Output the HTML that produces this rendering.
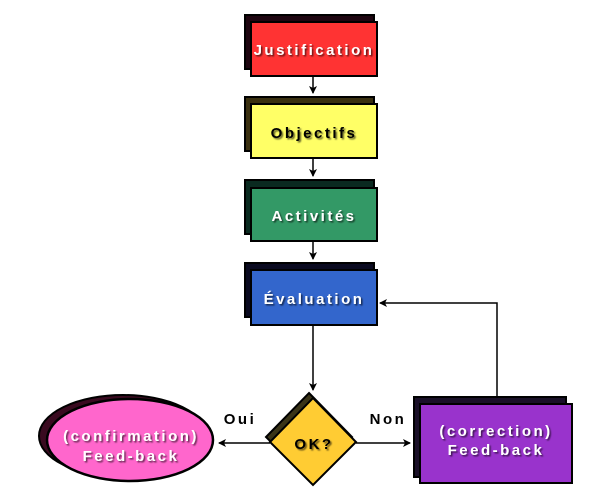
<!DOCTYPE html>
<html><head><meta charset="utf-8"><style>
body{margin:0;background:#fff}
svg{display:block}
text{font-family:"Liberation Sans",sans-serif;font-weight:bold;font-size:15px;letter-spacing:2.5px}
</style></head><body>
<svg width="600" height="500" viewBox="0 0 600 500">
<defs>
<marker id="a" markerWidth="8" markerHeight="8" refX="7" refY="4" orient="auto" markerUnits="userSpaceOnUse"><path d="M0,0 L8,4 L0,8 L2,4 z" fill="#000"/></marker>
<filter id="s"><feDropShadow dx="1.5" dy="1.5" stdDeviation="0.8" flood-color="#000" flood-opacity="0.6"/></filter>
</defs>
<!-- Justification -->
<rect x="245" y="15" width="129" height="54" fill="#1e0510" stroke="#000" stroke-width="2"/>
<rect x="251" y="22" width="126" height="54" fill="#ff3333" stroke="#000" stroke-width="2"/>
<text x="314" y="55" text-anchor="middle" fill="#fff" filter="url(#s)">Justification</text>
<line x1="313" y1="77" x2="313" y2="93" stroke="#000" stroke-width="1.5" marker-end="url(#a)"/>
<!-- Objectifs -->
<rect x="245" y="97" width="129" height="54" fill="#3a3010" stroke="#000" stroke-width="2"/>
<rect x="251" y="104" width="126" height="54" fill="#ffff66" stroke="#000" stroke-width="2"/>
<text x="314" y="138" text-anchor="middle" fill="#000" filter="url(#s)">Objectifs</text>
<line x1="313" y1="159" x2="313" y2="176" stroke="#000" stroke-width="1.5" marker-end="url(#a)"/>
<!-- Activités -->
<rect x="245" y="180" width="129" height="54" fill="#0a2a20" stroke="#000" stroke-width="2"/>
<rect x="251" y="188" width="126" height="53" fill="#339966" stroke="#000" stroke-width="2"/>
<text x="314" y="221" text-anchor="middle" fill="#fff" filter="url(#s)">Activités</text>
<line x1="313" y1="242" x2="313" y2="259" stroke="#000" stroke-width="1.5" marker-end="url(#a)"/>
<!-- Evaluation -->
<rect x="245" y="263" width="129" height="54" fill="#0a0a20" stroke="#000" stroke-width="2"/>
<rect x="251" y="270" width="126" height="55" fill="#3366cc" stroke="#000" stroke-width="2"/>
<text x="314" y="304" text-anchor="middle" fill="#fff" filter="url(#s)">Évaluation</text>
<line x1="313" y1="325" x2="313" y2="390" stroke="#000" stroke-width="1.5" marker-end="url(#a)"/>
<!-- feedback loop -->
<polyline points="497,396 497,303 380,303" fill="none" stroke="#000" stroke-width="1.5" marker-end="url(#a)"/>
<!-- Diamond -->
<polygon points="309,393 352,437 309,480 266,437" fill="#3a3418" stroke="#000" stroke-width="2"/>
<polygon points="313,398 356,442 313,485 270,442" fill="#ffcc33" stroke="#000" stroke-width="2"/>
<text x="314" y="449" text-anchor="middle" fill="#000" filter="url(#s)">OK?</text>
<line x1="270" y1="443" x2="219" y2="443" stroke="#000" stroke-width="1.5" marker-end="url(#a)"/>
<line x1="356" y1="443" x2="410" y2="443" stroke="#000" stroke-width="1.5" marker-end="url(#a)"/>
<text x="240" y="424" text-anchor="middle" fill="#000">Oui</text>
<text x="388" y="424" text-anchor="middle" fill="#000">Non</text>
<!-- Ellipse -->
<ellipse cx="123" cy="436" rx="84" ry="41" fill="#3a0a20" stroke="#000" stroke-width="2"/>
<ellipse cx="130" cy="440" rx="83" ry="41" fill="#ff66cc" stroke="#000" stroke-width="2.5"/>
<text x="131" y="441" text-anchor="middle" fill="#fff" filter="url(#s)">(confirmation)</text>
<text x="131" y="461" text-anchor="middle" fill="#fff" filter="url(#s)">Feed-back</text>
<!-- Purple -->
<rect x="414" y="397" width="152" height="80" fill="#1a1028" stroke="#000" stroke-width="2"/>
<rect x="420" y="404" width="152" height="79" fill="#9933cc" stroke="#000" stroke-width="2"/>
<text x="496" y="436" text-anchor="middle" fill="#fff" filter="url(#s)">(correction)</text>
<text x="496" y="455" text-anchor="middle" fill="#fff" filter="url(#s)">Feed-back</text>
</svg>
</body></html>
